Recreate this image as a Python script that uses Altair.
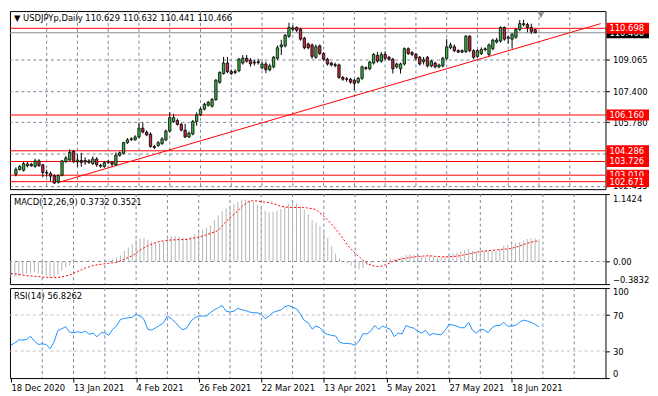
import json
import pandas as pd
import altair as alt

# ---------------- data ----------------
symbol = "USDJPYp,Daily"
last_ohlc = [110.629, 110.632, 110.441, 110.466]

opens = [103.06, 103.31, 103.27, 103.50, 103.58, 103.47, 103.76, 103.55, 103.15, 103.10,
         102.98, 102.65, 103.01, 103.72, 103.81, 104.26, 103.71, 103.78, 103.70, 103.76,
         103.62, 103.86, 103.53, 103.46, 103.67, 103.70, 103.55, 104.05, 104.16, 104.71,
         104.88, 104.86, 105.01, 105.47, 105.26, 105.16, 104.51, 104.56, 104.66, 104.86,
         105.32, 105.82, 105.87, 105.67, 105.37, 105.01, 105.17, 105.82, 106.17, 106.47,
         106.67, 106.62, 106.97, 107.87, 108.33, 108.88, 108.43, 108.38, 108.48, 108.88,
         109.13, 109.03, 108.88, 108.95, 108.63, 108.83, 108.53, 108.68, 109.13, 109.73,
         109.78, 110.28, 110.65, 110.74, 110.64, 110.18, 109.88, 109.83, 109.18, 109.78,
         109.38, 109.08, 108.88, 108.80, 108.78, 108.13, 108.05, 108.03, 107.98, 107.88,
         108.08, 108.64, 108.58, 108.88, 109.28, 108.98, 109.33, 109.18, 109.08, 108.68,
         108.58, 108.83, 109.63, 109.43, 109.33, 109.18, 108.95, 109.18, 108.73, 108.88,
         108.68, 108.73, 109.13, 109.68, 109.73, 109.53, 109.45, 109.48, 110.28, 109.53,
         109.23, 109.38, 109.58, 109.33, 109.63, 109.98, 110.03, 110.74, 110.18, 110.13,
         110.23, 110.64, 110.89, 110.89, 110.74, 110.629]
highs = [103.42, 103.55, 103.72, 103.70, 103.66, 103.88, 103.85, 103.60, 103.30, 103.20,
         103.05, 103.05, 103.80, 104.02, 104.36, 104.33, 104.10, 104.18, 103.95, 103.85,
         104.00, 103.95, 103.60, 103.75, 103.80, 103.75, 104.20, 104.25, 104.76, 104.95,
         105.00, 105.10, 105.77, 105.77, 105.35, 105.25, 104.60, 104.80, 105.00, 105.40,
         106.30, 106.22, 105.97, 105.75, 105.70, 105.30, 105.90, 106.30, 106.55, 106.80,
         106.90, 107.05, 108.05, 108.45, 109.20, 109.20, 108.55, 108.55, 109.15, 109.30,
         109.30, 109.15, 109.05, 109.10, 108.95, 108.95, 108.85, 109.25, 109.80, 110.10,
         110.40, 110.99, 110.85, 110.80, 110.72, 110.25, 109.95, 109.90, 109.85, 109.85,
         109.45, 109.15, 108.95, 108.90, 108.85, 108.20, 108.15, 108.10, 108.05, 108.15,
         108.75, 108.70, 109.00, 109.40, 109.45, 109.45, 109.50, 109.25, 109.15, 108.90,
         108.90, 109.70, 109.70, 109.50, 109.40, 109.25, 109.20, 109.25, 109.05, 108.95,
         108.85, 109.20, 110.13, 109.95, 109.85, 109.60, 109.60, 110.35, 110.35, 109.60,
         109.60, 109.70, 109.70, 109.90, 110.15, 110.20, 110.80, 110.80, 110.30, 110.45,
         110.70, 111.14, 111.14, 110.99, 110.94, 110.632]
lows = [102.95, 103.25, 103.20, 103.42, 103.45, 103.40, 103.45, 102.90, 102.92, 102.70,
        102.55, 102.57, 102.95, 103.66, 103.75, 103.65, 103.45, 103.45, 103.55, 103.60,
        103.55, 103.45, 103.40, 103.40, 103.60, 103.45, 103.50, 103.98, 104.10, 104.65,
        104.80, 104.82, 104.95, 105.20, 105.05, 104.45, 104.38, 104.50, 104.60, 104.80,
        105.25, 105.75, 105.60, 105.30, 104.95, 104.95, 105.10, 105.60, 106.10, 106.40,
        106.60, 106.55, 106.90, 107.80, 108.28, 108.35, 108.25, 108.30, 108.40, 108.80,
        108.90, 108.70, 108.75, 108.80, 108.55, 108.35, 108.45, 108.60, 109.05, 109.30,
        109.70, 110.20, 110.55, 110.50, 110.05, 109.60, 109.60, 109.10, 109.10, 109.30,
        109.00, 108.75, 108.70, 108.65, 108.05, 107.95, 107.90, 107.80, 107.47, 107.80,
        108.00, 108.50, 108.50, 108.80, 108.90, 108.90, 109.05, 109.00, 108.33, 108.60,
        108.33, 108.75, 109.30, 109.25, 109.05, 108.75, 108.80, 108.65, 108.65, 108.60,
        108.60, 108.65, 109.05, 109.60, 109.45, 109.40, 109.40, 109.40, 109.45, 109.10,
        109.15, 109.30, 109.50, 109.25, 109.55, 109.90, 109.95, 110.05, 109.90, 109.63,
        110.15, 110.55, 110.80, 110.49, 110.40, 110.441]
closes = [103.31, 103.46, 103.61, 103.60, 103.50, 103.76, 103.51, 103.15, 103.12, 102.96,
          102.60, 102.99, 103.76, 103.91, 104.21, 103.71, 103.80, 103.68, 103.78, 103.68,
          103.86, 103.56, 103.48, 103.66, 103.71, 103.58, 104.06, 104.18, 104.71, 104.86,
          104.91, 105.01, 105.47, 105.27, 105.12, 104.51, 104.46, 104.71, 104.91, 105.32,
          106.02, 106.02, 105.67, 105.37, 105.01, 105.21, 105.82, 106.17, 106.47, 106.72,
          106.82, 106.97, 107.98, 108.38, 108.88, 108.43, 108.33, 108.45, 109.08, 109.13,
          108.98, 108.83, 108.93, 108.90, 108.83, 108.53, 108.73, 109.18, 109.68, 109.83,
          110.33, 110.74, 110.72, 110.60, 110.13, 109.68, 109.68, 109.23, 109.73, 109.38,
          109.08, 108.83, 108.78, 108.75, 108.13, 108.03, 108.03, 107.88, 107.82, 108.08,
          108.68, 108.60, 108.93, 109.33, 108.98, 109.33, 109.13, 109.08, 108.58, 108.83,
          108.83, 109.63, 109.38, 109.33, 109.13, 108.83, 109.05, 108.73, 108.98, 108.68,
          108.78, 109.13, 109.73, 109.83, 109.53, 109.45, 109.53, 110.28, 109.53, 109.18,
          109.53, 109.58, 109.63, 109.83, 110.08, 110.08, 110.74, 110.13, 110.23, 110.38,
          110.64, 110.94, 110.94, 110.74, 110.54, 110.466]

macd_main = [-0.27, -0.26, -0.24, -0.22, -0.21, -0.19, -0.18, -0.20, -0.22, -0.24,
             -0.27, -0.27, -0.22, -0.16, -0.10, -0.07, -0.04, -0.02, 0.00, 0.01,
             0.02, 0.02, 0.01, 0.01, 0.02, 0.02, 0.04, 0.07, 0.10, 0.18,
             0.24, 0.30, 0.37, 0.39, 0.40, 0.37, 0.34, 0.32, 0.31, 0.34,
             0.40, 0.43, 0.43, 0.42, 0.40, 0.40, 0.42, 0.46, 0.51, 0.54,
             0.57, 0.61, 0.70, 0.78, 0.85, 0.90, 0.93, 0.97, 1.01, 1.04,
             1.05, 1.04, 1.01, 0.96, 0.92, 0.86, 0.84, 0.84, 0.86, 0.89,
             0.93, 0.98, 1.00, 0.98, 0.94, 0.88, 0.80, 0.70, 0.66, 0.60,
             0.50, 0.40, 0.26, 0.13, 0.05, 0.00, -0.03, -0.07, -0.10, -0.13,
             -0.11, -0.06, -0.03, -0.01, 0.00, 0.03, 0.05, 0.05, 0.04, 0.06,
             0.08, 0.11, 0.12, 0.11, 0.10, 0.09, 0.08, 0.10, 0.08, 0.07,
             0.07, 0.09, 0.11, 0.14, 0.15, 0.17, 0.19, 0.21, 0.18, 0.17,
             0.18, 0.19, 0.195, 0.19, 0.18, 0.21, 0.27, 0.28, 0.29, 0.31,
             0.33, 0.35, 0.38, 0.395, 0.39, 0.3732]
macd_signal = [-0.206, -0.21, -0.22, -0.23, -0.24, -0.245, -0.25, -0.255, -0.263, -0.268,
               -0.272, -0.274, -0.27, -0.26, -0.245, -0.229, -0.20, -0.172, -0.14, -0.11,
               -0.09, -0.07, -0.057, -0.048, -0.038, -0.03, -0.022, -0.017, 0.01, 0.04,
               0.068, 0.097, 0.145, 0.195, 0.232, 0.269, 0.295, 0.318, 0.338, 0.348,
               0.358, 0.366, 0.368, 0.37, 0.372, 0.375, 0.388, 0.40, 0.412, 0.432,
               0.452, 0.478, 0.50, 0.526, 0.60, 0.68, 0.743, 0.80, 0.858, 0.93,
               0.98, 1.024, 1.028, 1.025, 1.015, 1.005, 1.0, 0.98, 0.96, 0.935,
               0.925, 0.918, 0.915, 0.915, 0.915, 0.913, 0.905, 0.895, 0.881, 0.82,
               0.77, 0.70, 0.63, 0.55, 0.47, 0.38, 0.28, 0.21, 0.14, 0.08,
               0.02, -0.03, -0.06, -0.08, -0.085, -0.075, -0.05, -0.02, 0.01, 0.03,
               0.045, 0.055, 0.07, 0.075, 0.085, 0.09, 0.095, 0.097, 0.09, 0.085,
               0.08, 0.08, 0.08, 0.085, 0.09, 0.10, 0.115, 0.126, 0.14, 0.155,
               0.172, 0.175, 0.183, 0.19, 0.195, 0.20, 0.21, 0.212, 0.225, 0.24,
               0.26, 0.285, 0.309, 0.325, 0.34, 0.3521]
rsi = [36.5, 39, 42.5, 42.2, 43, 46.5, 41, 37.4, 38, 37.4,
       32.6, 40, 53, 54.8, 57, 51, 50.4, 51.5, 50.4, 52.2,
       48.5, 50, 45.9, 50.4, 50.4, 47.4, 54.1, 57.8, 65.2, 66.3,
       67, 67.5, 70.7, 68.9, 65.2, 54.1, 53.3, 55.9, 58.5, 61.5,
       68.9, 66, 62, 57, 53.5, 55.9, 63.3, 67, 68.9, 68.9,
       69, 72.6, 76, 78.1, 80.7, 74.4, 73.3, 74.4, 77.4, 76,
       75, 73.3, 72.6, 72.6, 71, 66, 68.9, 73, 74.4,
       75.6, 79.2, 80.7, 78.5, 77, 71, 64, 61.5, 54.5, 57.8,
       56, 50.4, 48.5, 47.4, 46.7, 40, 38.5, 38.5, 38, 36.3,
       41.1, 49.3, 49, 52.2, 58.5, 54.1, 57.8, 56, 54.1, 46,
       50, 49, 58.5, 56.5, 55.5, 52, 50, 53, 47.5, 49.5,
       48.5, 48, 53, 59.6, 59, 57.5, 55.9, 56, 62, 53,
       50, 54.1, 53.5, 50.4, 55.9, 58.5, 58.5, 62, 57.5, 57.8,
       58.5, 62, 64.4, 63.3, 62, 59.5, 56.8262]

levels = [110.698, 106.160, 104.286, 103.726, 103.010, 102.671]
current_price = 110.466
price_ticks = [102.455, 104.120, 105.780, 107.400, 109.065]
price_range = [102.28, 111.60]
trend_bars = [11.25, 152.0]
trend_prices = [102.64, 110.94]
shift_bar = [136.5]
grid_bars = [8, 16, 24, 32, 40, 48, 56, 64, 72, 80, 88, 96, 104, 112, 120, 128, 136, 144]
date_ticks = [0, 16, 32, 48, 64, 80, 96, 112, 128]
date_labels = ["18 Dec 2020", "13 Jan 2021", "4 Feb 2021", "26 Feb 2021", "22 Mar 2021",
               "13 Apr 2021", "5 May 2021", "27 May 2021", "18 Jun 2021"]
macd_ticks = [-0.3832, 0.0, 1.1424]
macd_title = "MACD(12,26,9) 0.3732 0.3521"
rsi_ticks = [0, 30, 70, 100]
rsi_levels = [30, 70]
rsi_title = "RSI(14) 56.8262"

# ---------------- styling ----------------
FONT = "DejaVu Sans"
FS = 8.5
W = 602
H_MAIN, H_MACD, H_RSI = 180, 91, 91
GRID = "#778899"
UP, DOWN = "#3cb043", "#c0263c"

n = len(closes)
bars = pd.DataFrame({"i": list(range(n)), "o": opens, "h": highs, "l": lows, "c": closes})
bars["dir"] = ["up" if c >= o else "down" for o, c in zip(opens, closes)]
ind = pd.DataFrame({"i": list(range(n)), "m": macd_main, "s": macd_signal, "r": rsi})

xscale = alt.Scale(domain=[-0.25, 152], nice=False, zero=False)
pscale = alt.Scale(domain=price_range, nice=False, zero=False)
paxis = alt.Axis(orient="right", values=price_ticks, format=".3f", grid=True, gridColor=GRID,
                 gridDash=[3, 3], gridWidth=1, tickSize=4, labelPadding=3, title=None,
                 labelFlush=False, labelOverlap=False)


def px(field):
    return alt.X(f"{field}:Q", scale=xscale, axis=None)


def py(field):
    return alt.Y(f"{field}:Q", scale=pscale, axis=paxis)


def vgrid(xfun):
    return alt.Chart(pd.DataFrame({"g": grid_bars})).mark_rule(
        color=GRID, strokeDash=[3, 3], strokeWidth=1).encode(x=xfun("g"))


def label_text(txt, y):
    return alt.Chart(pd.DataFrame({"t": [txt]})).mark_text(
        align="left", baseline="middle", font=FONT, fontSize=FS, color="black"
    ).encode(x=alt.value(4), y=alt.value(y), text="t:N")


# ---------------- main price panel ----------------
level_rules = alt.Chart(pd.DataFrame({"p": levels})).mark_rule(
    color="#ff0000", strokeWidth=1).encode(y=py("p"))
cur_rule = alt.Chart(pd.DataFrame({"p": [current_price]})).mark_rule(
    color="#8c8c8c", strokeWidth=1).encode(y=py("p"))
trend = alt.Chart(pd.DataFrame({"b": trend_bars, "p": trend_prices})).mark_line(
    color="#ff0000", strokeWidth=1, clip=True).encode(x=px("b"), y=py("p"))
wicks = alt.Chart(bars).mark_rule(color="black", strokeWidth=1).encode(
    x=px("i"), y=py("l"), y2="h:Q")
bodies = alt.Chart(bars).mark_bar(size=2.4, stroke="black", strokeWidth=0.8).encode(
    x=px("i"), y=py("o"), y2="c:Q",
    color=alt.Color("dir:N", scale=alt.Scale(domain=["up", "down"], range=[UP, DOWN]), legend=None))

tag_layers = []
for p, col in [(current_price, "#000000")] + [(lv, "#ff0000") for lv in levels]:
    d = pd.DataFrame({"p": [p], "t": [f"{p:.3f}"]})
    tag_layers.append(alt.Chart(d).mark_tick(
        orient="horizontal", size=43, thickness=11, color=col, opacity=1).encode(
        x=alt.value(W + 22.5), y=py("p")))
    tag_layers.append(alt.Chart(d).mark_text(
        align="left", baseline="middle", font=FONT, fontSize=FS, color="white").encode(
        x=alt.value(W + 4), y=py("p"), text="t:N"))

header = label_text("\u25bc  " + symbol + "  " + " ".join(f"{v:.3f}" for v in last_ohlc), 7)
shift_mark = alt.Chart(pd.DataFrame({"b": shift_bar})).mark_point(
    shape="triangle-down", filled=True, size=45, color="#8c8c8c", opacity=1).encode(
    x=px("b"), y=alt.value(4))

main = alt.layer(vgrid(px), level_rules, cur_rule, trend, wicks, bodies,
                 *tag_layers, header, shift_mark).properties(width=W, height=H_MAIN)

# ---------------- MACD panel ----------------
mscale = alt.Scale(domain=[macd_ticks[0], macd_ticks[-1]], nice=False, zero=False)
maxis = alt.Axis(orient="right", values=macd_ticks, grid=False, tickSize=4, labelPadding=3,
                 title=None, labelFlush=True, labelOverlap=False,
                 labelExpr="datum.value == 0 ? '0.00' : format(datum.value, '.4f')")


def my(field):
    return alt.Y(f"{field}:Q", scale=mscale, axis=maxis)


zero_line = alt.Chart(pd.DataFrame({"z": [0.0]})).mark_rule(
    color=GRID, strokeDash=[3, 3], strokeWidth=1).encode(y=my("z"))
hist = alt.Chart(ind).mark_rule(color="#b4b4b4", strokeWidth=1).encode(
    x=px("i"), y=my("m"), y2=alt.datum(0))
signal = alt.Chart(ind).mark_line(color="#ff0000", strokeWidth=1, strokeDash=[2, 2]).encode(
    x=px("i"), y=my("s"))
macd = alt.layer(vgrid(px), zero_line, hist, signal, label_text(macd_title, 8)).properties(
    width=W, height=H_MACD)

# ---------------- RSI panel ----------------
rscale = alt.Scale(domain=[0, 100], nice=False, zero=False)
raxis = alt.Axis(orient="right", values=rsi_ticks, format="d", grid=False, tickSize=4,
                 labelPadding=3, title=None, labelFlush=True, labelOverlap=False)
xaxis_dates = alt.Axis(orient="bottom", values=date_ticks,
                       labelExpr=json.dumps(date_labels) + "[round(datum.value / 16)]",
                       labelAlign="left", labelPadding=2, tickSize=4, grid=False, domain=False,
                       title=None, labelFlush=False, labelBound=False, labelOverlap=False)


def rx(field):
    return alt.X(f"{field}:Q", scale=xscale, axis=xaxis_dates)


def ry(field):
    return alt.Y(f"{field}:Q", scale=rscale, axis=raxis)


rsi_grid = alt.Chart(pd.DataFrame({"v": rsi_levels})).mark_rule(
    color="#c0c0c0", strokeDash=[3, 3], strokeWidth=1).encode(y=ry("v"))
rsi_line = alt.Chart(ind).mark_line(color="#1e90ff", strokeWidth=1).encode(x=rx("i"), y=ry("r"))
rsi_panel = alt.layer(vgrid(rx), rsi_grid, rsi_line, label_text(rsi_title, 8)).properties(
    width=W, height=H_RSI)

chart = alt.vconcat(main, macd, rsi_panel, spacing=2).properties(
    padding={"left": 0, "top": 0, "right": 0, "bottom": 0}, background="white"
).configure_view(stroke="black", strokeWidth=1).configure_axis(
    labelFont=FONT, labelFontSize=FS, labelColor="black", tickColor="black", domain=False)

chart.save("out.html", embed_options={"renderer": "svg", "actions": False})
